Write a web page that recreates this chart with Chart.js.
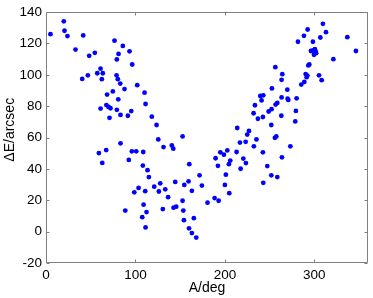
<!DOCTYPE html>
<html>
<head>
<meta charset="utf-8">
<script src="https://cdn.jsdelivr.net/npm/chart.js@4/dist/chart.umd.min.js"></script>
<style>
html,body{margin:0;padding:0;background:#fff;}
#wrap{width:373px;height:298px;position:relative;}
</style>
</head>
<body>
<div id="wrap"><canvas id="c" width="373" height="298"></canvas></div>
<script>
// A/deg values
const angles = [
  5.0,19.9,20.7,24.0,33.0,41.6,40.5,46.8,48.3,54.6,57.3,61.0,63.5,62.4,61.0,67.5,68.3,69.9,72.1,71.0,
  74.7,76.6,78.9,79.2,81.1,80.3,83.0,80.8,79.2,83.3,87.8,85.9,93.4,96.4,95.3,91.5,102.0,110.2,111.3,118.3,
  123.6,125.5,131.4,140.7,142.3,152.7,83.3,67.3,59.1,62.9,92.6,96.0,100.9,108.7,108.3,113.5,115.0,103.5,98.7,110.9,
  88.6,109.1,112.4,107.6,111.3,121.0,127.7,126.2,133.3,130.6,136.5,144.5,142.6,145.6,152.7,153.5,154.2,154.6,159.4,160.2,
  159.9,163.1,165.3,163.1,168.0,171.7,174.3,180.6,188.5,193.0,189.6,192.2,194.9,198.9,202.7,201.1,200.0,204.9,204.5,206.0,
  213.1,217.6,220.6,223.5,216.8,223.2,235.3,232.4,242.5,273.2,263.8,247.4,251.9,258.6,242.9,213.8,226.9,225.0,251.9,255.9,
  257.5,236.9,242.5,248.9,252.2,256.7,258.6,232.1,233.6,239.6,242.9,241.0,252.6,263.4,269.8,270.1,270.9,280.2,279.4,278.7,
  263.1,263.4,264.2,256.4,285.4,288.8,291.4,290.3,292.2,293.3,294.4,305.2,308.2,321.3,281.7,288.4,292.5,298.4,296.2,298.6,
  300.6,302.0,299.6,301.5,306.7,309.6,313.0,336.9,346.5
];
// ΔE/arcsec values
const errors = [
  125.9,134.1,128.1,124.7,116.1,125.1,97.4,99.7,112.1,114.0,101.0,103.9,101.0,97.2,78.5,80.7,87.4,79.5,78.7,72.6,
  89.4,121.8,99.7,109.8,113.3,97.2,94.4,84.4,77.7,74.4,90.9,118.4,115.0,106.6,76.9,73.9,93.4,88.6,81.4,73.3,
  68.0,58.8,53.9,55.0,52.9,60.7,56.3,52.0,50.1,43.8,45.7,51.2,51.2,50.8,42.1,39.2,34.8,27.9,25.1,25.8,
  13.4,17.2,12.5,9.2,2.7,28.7,30.8,25.6,27.0,14.4,22.0,31.7,15.3,15.9,19.7,13.4,7.3,29.8,32.1,43.0,
  2.1,26.0,8.6,-0.9,-3.8,35.9,29.4,18.5,21.4,19.7,46.8,42.0,50.6,49.1,51.8,36.3,29.8,24.5,43.0,45.3,
  50.8,40.1,46.6,43.7,56.8,57.3,58.8,54.4,50.6,54.4,47.4,41.8,35.9,34.8,31.1,66.1,64.2,61.9,68.0,59.8,
  60.7,72.0,73.1,76.6,78.1,81.0,82.1,75.5,80.6,86.5,86.9,83.7,91.3,85.6,90.5,84.8,84.0,85.0,77.0,70.3,
  73.9,96.8,100.4,104.9,93.8,95.5,98.5,100.5,99.5,106.0,106.6,99.7,96.6,110.0,121.1,124.9,128.9,121.1,115.2,115.5,
  116.4,113.8,112.8,115.0,123.8,132.5,127.2,124.0,115.2
];
const xTicks = [0, 100, 200, 300];
const yTicks = [-20, 0, 20, 40, 60, 80, 100, 120, 140];

const points = angles.map((a, i) => ({x: a, y: errors[i]}));

const boxPlugin = {
  id: 'box',
  afterDraw(chart) {
    const ctx = chart.ctx, a = chart.chartArea;
    const xs = chart.scales.x, ys = chart.scales.y;
    ctx.save();
    ctx.strokeStyle = '#808080';
    ctx.lineWidth = 1;
    const L = Math.round(a.left) + 0.5, R = Math.round(a.right) - 0.5;
    const T = Math.round(a.top) + 0.5, B = Math.round(a.bottom) - 0.5;
    ctx.beginPath();
    ctx.rect(L, T, R - L, B - T);
    const tl = 3;
    xTicks.forEach(v => {
      const px = Math.round(xs.getPixelForValue(v)) + 0.5;
      ctx.moveTo(px, B); ctx.lineTo(px, B - tl);
      ctx.moveTo(px, T); ctx.lineTo(px, T + tl);
    });
    yTicks.forEach(v => {
      const py = Math.round(ys.getPixelForValue(v)) + 0.5;
      ctx.moveTo(L, py); ctx.lineTo(L + tl, py);
      ctx.moveTo(R, py); ctx.lineTo(R - tl, py);
    });
    ctx.stroke();
    ctx.restore();
  }
};

const tickFont = {family: 'Liberation Sans, Arial, sans-serif', size: 13.5};
const titleFont = {family: 'Liberation Sans, Arial, sans-serif', size: 14};

new Chart(document.getElementById('c'), {
  type: 'scatter',
  data: {
    datasets: [{
      data: points,
      backgroundColor: '#0000ff',
      borderColor: '#0000ff',
      borderWidth: 0,
      pointRadius: 2.4,
      pointHoverRadius: 2.4
    }]
  },
  options: {
    responsive: false,
    animation: false,
    events: [],
    layout: {padding: {left: 0, right: 5, top: 9, bottom: 0}},
    plugins: {legend: {display: false}, tooltip: {enabled: false}},
    scales: {
      x: {
        type: 'linear', min: 0, max: 360,
        afterFit(s) { s.height = 35; },
        afterBuildTicks(s) { s.ticks = xTicks.map(v => ({value: v})); },
        grid: {display: false, drawTicks: false},
        border: {display: false},
        ticks: {color: '#000', font: tickFont, padding: 4, maxRotation: 0},
        title: {display: true, text: 'A/deg', color: '#000', font: titleFont, padding: {top: 0, bottom: 1}}
      },
      y: {
        type: 'linear', min: -20, max: 140,
        afterFit(s) { s.width = 46; },
        afterBuildTicks(s) { s.ticks = yTicks.map(v => ({value: v})); },
        grid: {display: false, drawTicks: false},
        border: {display: false},
        ticks: {color: '#000', font: tickFont, padding: 4},
        title: {display: true, text: '\u00a0\u00a0\u00a0\u00a0ΔE/arcsec', color: '#000', font: titleFont, padding: {top: 2, bottom: 0}}
      }
    }
  },
  plugins: [boxPlugin]
});
</script>
</body>
</html>
